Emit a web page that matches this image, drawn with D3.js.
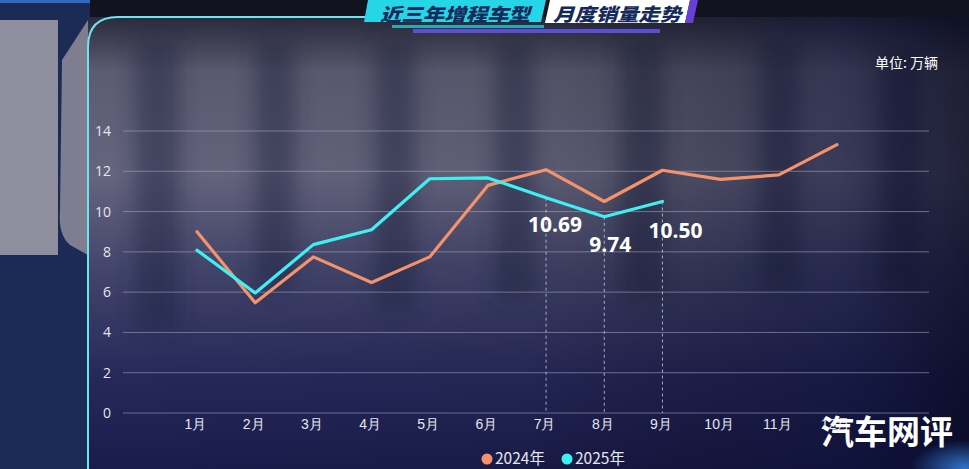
<!DOCTYPE html>
<html><head><meta charset="utf-8">
<script src="https://cdn.jsdelivr.net/npm/d3@7"></script>
<style>
html,body{margin:0;padding:0;background:#0d1230;overflow:hidden;}
svg{display:block;font-family:"Noto Sans CJK SC","Noto Sans",sans-serif;}
</style></head>
<body>
<svg id="chart" width="969" height="469"></svg>
<script>
// ---- data ----
const months = ["1月","2月","3月","4月","5月","6月","7月","8月","9月","10月","11月","12月"];
const sales2024 = [9.0, 5.47, 7.75, 6.48, 7.75, 11.3, 12.08, 10.5, 12.05, 11.6, 11.82, 13.32];
const sales2025 = [8.08, 5.96, 8.36, 9.1, 11.63, 11.67, 10.69, 9.74, 10.50];
const labelMonths = ["7月","8月","9月"];
const yTicks = [0, 2, 4, 6, 8, 10, 12, 14];
const seriesNames = ["2024年","2025年"];
const titleLeft = "近三年增程车型";
const titleRight = "月度销量走势";
const unitText = "单位: 万辆";
const watermark = "汽车网评";

const W = 969, H = 469;
const svg = d3.select("#chart");
const defs = svg.append("defs");

// ---- background ----
const bgV = defs.append("linearGradient").attr("id","bgV").attr("x1",0).attr("y1",0).attr("x2",0).attr("y2",1);
[[0,"#2a2b3c"],[0.12,"#5c5b72"],[0.35,"#66657f"],[0.55,"#44466c"],[0.8,"#26285a"],[1,"#1a1c4c"]]
  .forEach(s=>bgV.append("stop").attr("offset",s[0]).attr("stop-color",s[1]));
const bgH = defs.append("linearGradient").attr("id","bgH").attr("x1",0).attr("y1",0).attr("x2",1).attr("y2",0);
[[0,"#000",0],[0.5,"#000",0.08],[0.85,"#05082a",0.45],[1,"#02041a",0.7]]
  .forEach(s=>bgH.append("stop").attr("offset",s[0]).attr("stop-color",s[1]).attr("stop-opacity",s[2]));
const blur = defs.append("filter").attr("id","blur").attr("x","-20%").attr("y","-20%").attr("width","140%").attr("height","140%");
blur.append("feGaussianBlur").attr("stdDeviation",10);

svg.append("rect").attr("width",W).attr("height",H).attr("fill","#101634");
// left strip
svg.append("rect").attr("x",0).attr("y",0).attr("width",90).attr("height",H).attr("fill","#1b2b55");
svg.append("rect").attr("x",0).attr("y",20).attr("width",58).attr("height",235).attr("fill","#8e8e9e");
svg.append("path").attr("d","M62,60 L88,20 L88,255 L70,245 Q58,235 60,210 Z").attr("fill","#7e7e90");
svg.append("rect").attr("x",0).attr("y",0).attr("width",90).attr("height",3).attr("fill","#2f6cc0");
// main panel
svg.append("rect").attr("x",88).attr("y",17).attr("width",W-88).attr("height",H-17).attr("fill","url(#bgV)");
// blurred big letters
const gBlur = svg.append("g").attr("filter","url(#blur)").attr("opacity",0.45);
[[135,40,45,290],[255,40,40,250],[375,40,40,270],[495,40,40,260],[620,40,45,260],[760,40,40,250],[880,50,40,240]]
  .forEach(r=>gBlur.append("rect").attr("x",r[0]).attr("y",r[1]).attr("width",r[2]).attr("height",r[3]).attr("fill","#1e2140"));
svg.append("rect").attr("x",88).attr("y",17).attr("width",W-88).attr("height",H-17).attr("fill","url(#bgH)");
// top dark band
svg.append("rect").attr("x",90).attr("y",0).attr("width",W-90).attr("height",17).attr("fill","#11141f");
// bottom-right glow
const glow = defs.append("radialGradient").attr("id","glow");
glow.append("stop").attr("offset",0).attr("stop-color","#3a8cf0").attr("stop-opacity",0.8);
glow.append("stop").attr("offset",1).attr("stop-color","#3a8cf0").attr("stop-opacity",0);
svg.append("ellipse").attr("cx",965).attr("cy",468).attr("rx",55).attr("ry",28).attr("fill","url(#glow)");

// frame line
svg.append("path").attr("d","M88,469 L88,47 Q88,17 118,17 L370,17")
  .attr("fill","none").attr("stroke","#6fe3ee").attr("stroke-width",2);

// ---- title ----
const tg = svg.append("g");
tg.append("path").attr("d","M368,0 L546,0 L541,22 L364,22 Z").attr("fill","#27d6e6");
tg.append("path").attr("d","M550,0 L690,0 L685,23 L545,23 Z").attr("fill","#ffffff");
tg.append("path").attr("d","M690,0 L698,0 L693,23 L685,23 Z").attr("fill","#6a3fd8");
tg.append("rect").attr("x",392).attr("y",25).attr("width",152).attr("height",3).attr("fill","#2aa9b5");
tg.append("rect").attr("x",413).attr("y",29).attr("width",247).attr("height",4).attr("fill","#5a4fd6");
tg.append("text").attr("x",455).attr("y",21).attr("text-anchor","middle").attr("font-size",18).attr("font-weight",900)
  .attr("font-style","italic").attr("fill","#142a5a").attr("textLength",150).attr("lengthAdjust","spacingAndGlyphs").text(titleLeft);
tg.append("text").attr("x",617).attr("y",21).attr("text-anchor","middle").attr("font-size",18).attr("font-weight",900)
  .attr("font-style","italic").attr("fill","#142a5a").attr("textLength",128).attr("lengthAdjust","spacingAndGlyphs").text(titleRight);

// unit
svg.append("text").attr("x",938).attr("y",68).attr("text-anchor","end").attr("font-size",14)
  .attr("fill","#ffffff").text(unitText);

// ---- scales ----
const x = d3.scalePoint().domain(months).range([197, 837]);
const y = d3.scaleLinear().domain([0, 14]).range([413, 131]);
const gridX0 = 123, gridX1 = 929;

// grid
svg.append("g").selectAll("line").data(yTicks).join("line")
  .attr("x1",gridX0).attr("x2",gridX1).attr("y1",d=>y(d)).attr("y2",d=>y(d))
  .attr("stroke","#a9a9c4").attr("stroke-opacity",0.55).attr("stroke-width",1);

// y axis labels
const yAxis = d3.axisLeft(y).tickValues(yTicks).tickSize(0).tickPadding(0);
svg.append("g").attr("transform","translate(111,0)").call(yAxis)
  .call(g=>g.select(".domain").remove())
  .call(g=>g.selectAll("text").attr("fill","#e6e6ef").attr("font-size",14).attr("font-family","'Open Sans','Noto Sans',sans-serif"));

// x axis labels
const xAxis = d3.axisBottom(x).tickSize(0).tickPadding(6);
svg.append("g").attr("transform","translate(-2,413)").call(xAxis)
  .call(g=>g.select(".domain").remove())
  .call(g=>g.selectAll("text").attr("fill","#e6e6ef").attr("font-size",14).attr("dy","0.71em"));

// dashed guides
svg.append("g").selectAll("line").data(labelMonths).join("line")
  .attr("x1",d=>x(d)).attr("x2",d=>x(d))
  .attr("y1",d=>y(sales2025[months.indexOf(d)])).attr("y2",413)
  .attr("stroke","#c8c8dc").attr("stroke-opacity",0.8).attr("stroke-width",1).attr("stroke-dasharray","3,3");

// lines
const line = d3.line().x((d,i)=>x(months[i])).y(d=>y(d));
svg.append("path").datum(sales2024).attr("d",line).attr("fill","none")
  .attr("stroke","#f4936a").attr("stroke-width",3.2).attr("stroke-linejoin","round").attr("stroke-linecap","round");
svg.append("path").datum(sales2025).attr("d",line).attr("fill","none")
  .attr("stroke","#3ff0f2").attr("stroke-width",3.2).attr("stroke-linejoin","round").attr("stroke-linecap","round");

// value labels
const labelOff = {"7月":[9,34],"8月":[6,35],"9月":[13,36]};
svg.append("g").selectAll("text").data(labelMonths).join("text")
  .attr("x",d=>x(d)+labelOff[d][0]).attr("y",d=>y(sales2025[months.indexOf(d)])+labelOff[d][1])
  .attr("text-anchor","middle").attr("font-size",21).attr("font-weight",700)
  .attr("font-family","'Open Sans','Noto Sans',sans-serif")
  .attr("fill","#ffffff").text(d=>sales2025[months.indexOf(d)].toFixed(2));

// legend
const colors = ["#f4936a","#3ff0f2"];
const lg = svg.append("g").selectAll("g").data(seriesNames).join("g")
  .attr("transform",(d,i)=>`translate(${487 + i*80},459)`);
lg.append("circle").attr("r",5.5).attr("fill",(d,i)=>colors[i]);
lg.append("text").attr("x",8).attr("y",5.3).attr("font-size",15.5).attr("fill","#e6e6ef").text(d=>d);

// watermark
svg.append("text").attr("x",887).attr("y",444).attr("text-anchor","middle").attr("font-size",33).attr("font-weight",700)
  .attr("fill","#ffffff").text(watermark);
</script>
</body></html>
